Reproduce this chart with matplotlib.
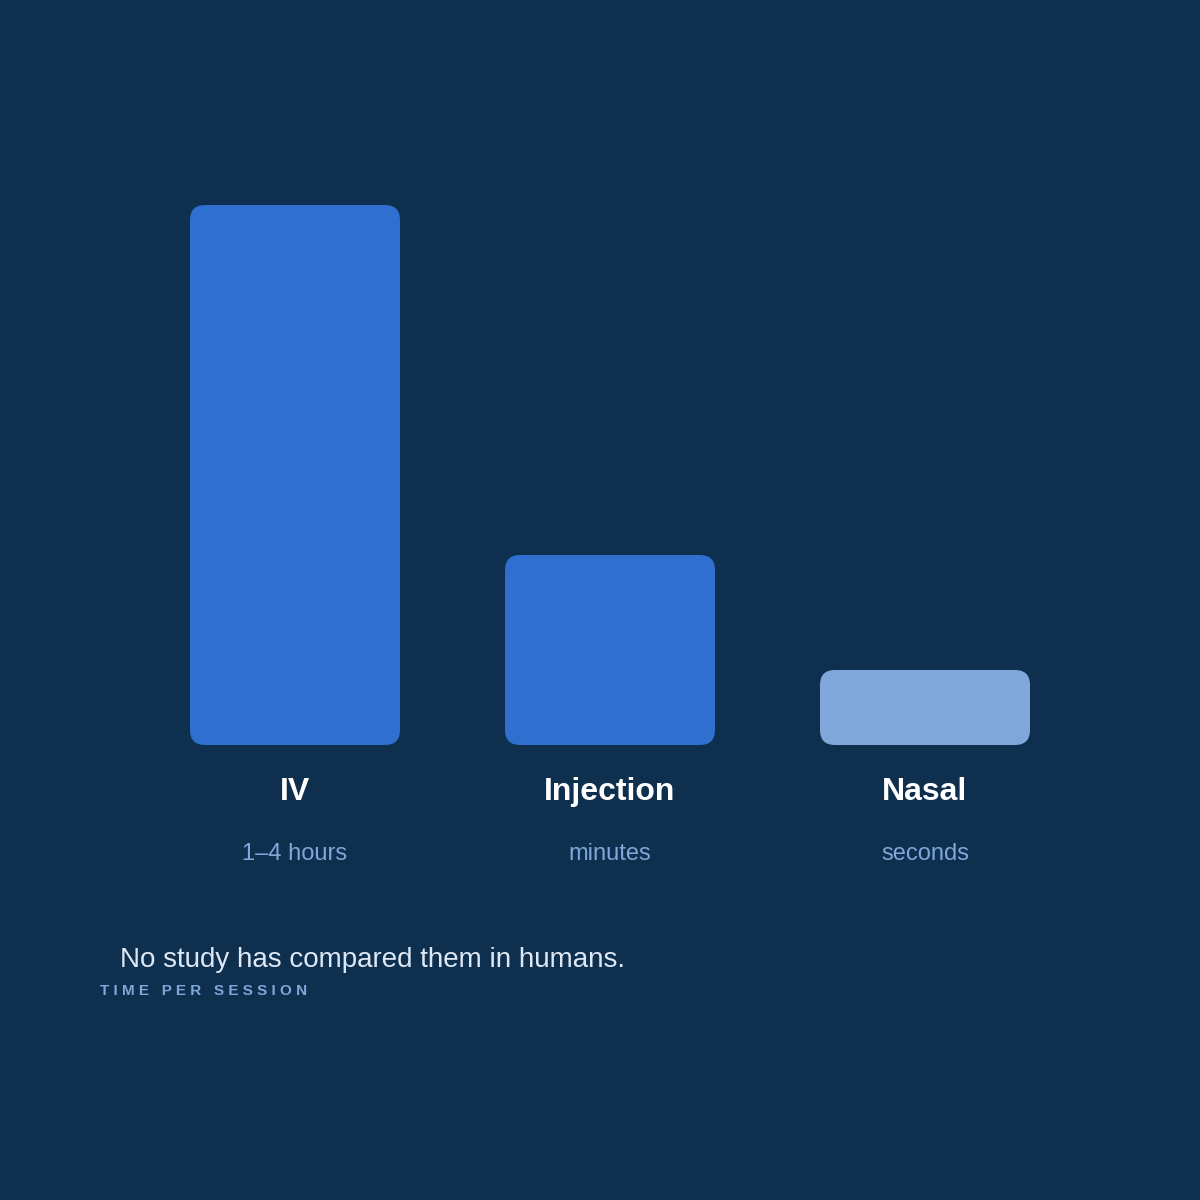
import matplotlib.pyplot as plt
from matplotlib.patches import FancyBboxPatch

plt.rcParams['font.family'] = ['Liberation Sans', 'DejaVu Sans']

categories = ['IV', 'Injection', 'Nasal']
durations = ['1–4 hours', 'minutes', 'seconds']
values = [540, 190, 75]  # relative bar height
colors = ['#2f6fcf', '#2f6fcf', '#7fa7d9']

bg = '#0f2f4f'
W = 1200

fig = plt.figure(figsize=(12, 12), dpi=100, facecolor=bg)

# bar axes: x centres at 0, 1, 2 -> 295, 610, 925 px; baseline at 745 px
ax = fig.add_axes([137.5 / W, (W - 745) / W, 945 / W, 540 / W])
ax.set_xlim(-0.5, 2.5)
ax.set_ylim(0, 540)
ax.axis('off')

bar_w = 210 / 315
rad = 15 / 315
for i, (v, c) in enumerate(zip(values, colors)):
    p = FancyBboxPatch((i - bar_w / 2, 0), bar_w, v,
                       boxstyle=f'round,pad=0,rounding_size={rad}',
                       mutation_aspect=315, fc=c, ec='none')
    ax.add_patch(p)

for i, (cat, d) in enumerate(zip(categories, durations)):
    x = (137.5 + 315 * (i + 0.5)) / W
    fig.text(x, 1 - 792 / W, cat, ha='center', va='center',
             color='white', fontsize=23, fontweight='bold')
    fig.text(x, 1 - 854 / W, d, ha='center', va='center',
             color='#7fa7d9', fontsize=17)

fig.text(120 / W, 1 - 960 / W, 'No study has compared them in humans.',
         ha='left', va='center', color='#dce8f5', fontsize=20)
fig.text(100 / W, 1 - 991 / W, ' '.join('TIME PER SESSION'),
         ha='left', va='center', color='#7fa7d9', fontsize=11, fontweight='bold')

fig.savefig('out.png', dpi=100, facecolor=bg)
